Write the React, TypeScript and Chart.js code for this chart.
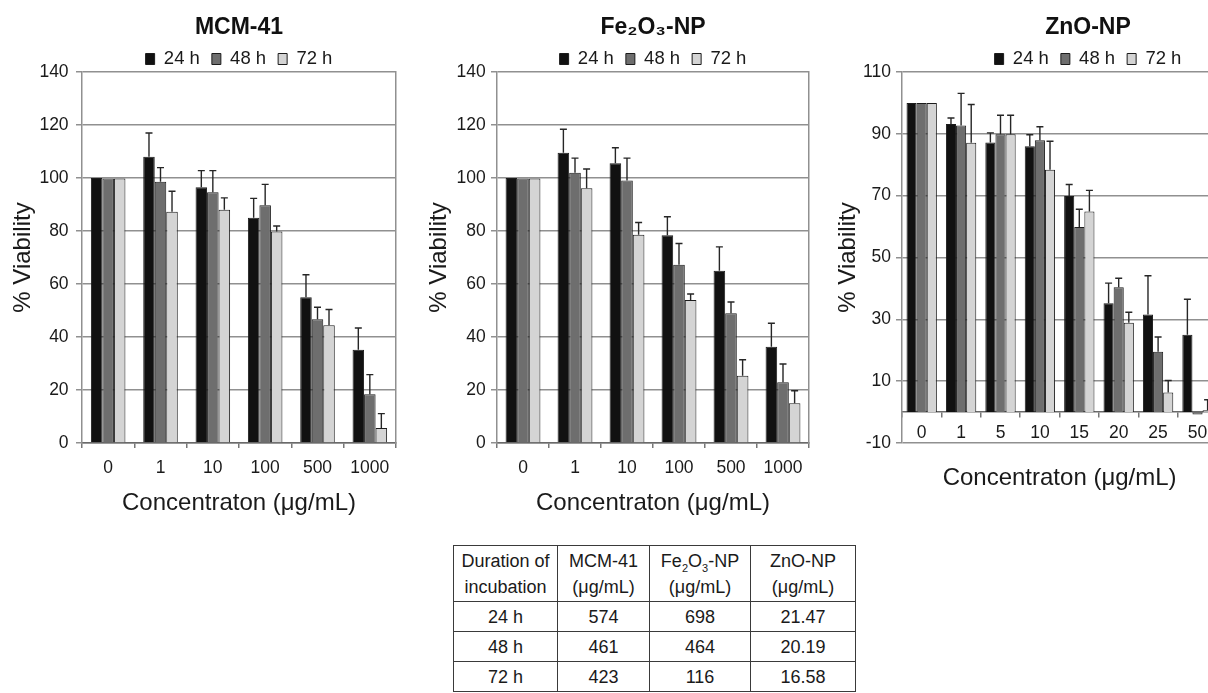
import React, { useEffect, useRef } from 'react';
import { Chart, registerables } from 'chart.js';

Chart.register(...registerables);

const FONT = "'Liberation Sans', Arial, Helvetica, sans-serif";
Chart.defaults.font.family = FONT;

// ---------- data ----------
const seriesLabels = ['24 h', '48 h', '72 h'];
const seriesColors = ['#111111', '#6e6e6e', '#d4d4d4'];

const mcmCategories = ['0', '1', '10', '100', '500', '1000'];
const mcm24 = [100, 108, 96.5, 85, 55, 35.2];
const mcm48 = [99.8, 98.6, 94.6, 89.7, 46.7, 18.4];
const mcm72 = [99.8, 87.3, 88, 79.8, 44.4, 5.7];
const mcm24Err = [0, 9, 6.3, 7.3, 8.5, 8.2];
const mcm48Err = [0, 5.3, 8.2, 7.9, 4.5, 7.4];
const mcm72Err = [0, 7.7, 4.5, 2.1, 6, 5.4];

const feCategories = ['0', '1', '10', '100', '500', '1000'];
const fe24 = [100, 109.5, 105.6, 78.4, 65, 36.3];
const fe48 = [99.8, 102, 99.1, 67.3, 49, 22.9];
const fe72 = [99.8, 96.1, 78.6, 54, 25.4, 15];
const fe24Err = [0, 8.9, 5.8, 7, 9, 8.9];
const fe48Err = [0, 5.5, 8.4, 8, 4.2, 6.9];
const fe72Err = [0, 7.3, 4.6, 2.2, 6, 4.7];

const znCategories = ['0', '1', '5', '10', '15', '20', '25', '50'];
const zn24 = [100, 93.2, 87.2, 86, 69.9, 35.2, 31.6, 25];
const zn48 = [100, 92.7, 89.9, 87.9, 59.9, 40.4, 19.5, -0.8];
const zn72 = [100, 87.1, 89.9, 78.4, 64.9, 28.9, 6.3, 0.6];
const zn24Err = [0, 1.9, 3.1, 3.7, 3.7, 6.5, 12.5, 11.5];
const zn48Err = [0, 10.4, 6.1, 4.4, 5.7, 2.9, 4.8, 0];
const zn72Err = [0, 12.4, 6.1, 9.2, 6.8, 3.4, 3.9, 3.4];

const tableDurations = ['24 h', '48 h', '72 h'];
const tableMcm = ['574', '461', '423'];
const tableFe = ['698', '464', '116'];
const tableZn = ['21.47', '20.19', '16.58'];

const xTitle = 'Concentraton (μg/mL)';
const yTitle = '% Viability';

// ---------- error bar plugin ----------
const errorBarPlugin = {
  id: 'errorBars',
  afterDatasetsDraw(chart: any) {
    const ctx = chart.ctx;
    const yScale = chart.scales.y;
    ctx.save();
    ctx.strokeStyle = '#262626';
    ctx.lineWidth = 1.4;
    chart.data.datasets.forEach((ds: any, di: number) => {
      const meta = chart.getDatasetMeta(di);
      const errs = ds.errors as number[] | undefined;
      if (!errs) return;
      meta.data.forEach((bar: any, i: number) => {
        const e = errs[i];
        const v = ds.data[i];
        if (!e) return;
        const yTop = yScale.getPixelForValue(v + e);
        const yBase = yScale.getPixelForValue(v);
        const x = bar.x;
        ctx.beginPath();
        ctx.moveTo(x, yBase);
        ctx.lineTo(x, yTop);
        ctx.moveTo(x - 3.5, yTop);
        ctx.lineTo(x + 3.5, yTop);
        ctx.stroke();
      });
    });
    ctx.restore();
  },
};

interface ChartParams {
  title: string;
  categories: string[];
  values: number[][];
  errors: number[][];
  catPct: number;
  yMin: number;
  yMax: number;
  yWidth: number;
  y2Width: number;
  rightBorder: boolean;
  yTitlePad: number;
  yTickPad: number;
  xPosition: any;
  xHeight: number;
  xTickPad: number;
  xTitlePadBottom: number;
  fullSize: boolean;
  padBottom: number;
}

const GRID = '#909090';

function makeConfig(p: ChartParams): any {
  return {
    type: 'bar',
    data: {
      labels: p.categories,
      datasets: p.values.map((vals, k) => ({
        label: seriesLabels[k],
        data: vals,
        errors: p.errors[k],
        backgroundColor: seriesColors[k],
        borderColor: '#1c1c1c',
        borderWidth: 1,
        categoryPercentage: p.catPct,
        barPercentage: 1,
        yAxisID: 'y',
      })),
    },
    options: {
      responsive: false,
      animation: false,
      events: [],
      layout: { padding: { left: 0, right: 0, top: 0, bottom: p.padBottom } },
      plugins: {
        title: {
          display: true,
          text: p.title,
          fullSize: p.fullSize,
          color: '#111',
          font: { size: 23, weight: 'bold', family: FONT },
          padding: { top: 14, bottom: -3.85 },
        },
        legend: {
          display: true,
          fullSize: p.fullSize,
          maxHeight: 34.25,
          labels: {
            boxWidth: 9,
            boxHeight: 11,
            padding: 12,
            color: '#1a1a1a',
            font: { size: 18.5, family: FONT },
          },
        },
        tooltip: { enabled: false },
      },
      scales: {
        x: {
          type: 'category',
          position: p.xPosition,
          grid: {
            display: true,
            drawOnChartArea: false,
            offset: true,
            tickLength: 5,
            color: '#777',
            lineWidth: 1.5,
          },
          border: { display: true, color: '#6a6a6a', width: 1.5 },
          ticks: {
            color: '#1a1a1a',
            padding: p.xTickPad,
            font: { size: 17.5, family: FONT },
            maxRotation: 0,
            autoSkip: false,
          },
          title: {
            display: true,
            text: xTitle,
            color: '#1a1a1a',
            font: { size: 24, family: FONT },
            padding: { top: 0, bottom: p.xTitlePadBottom },
          },
          afterFit: (s: any) => {
            s.height = p.xHeight;
          },
        },
        y: {
          type: 'linear',
          position: 'left',
          min: p.yMin,
          max: p.yMax,
          ticks: {
            stepSize: 20,
            color: '#1a1a1a',
            padding: p.yTickPad,
            font: { size: 17.5, family: FONT },
          },
          grid: { color: GRID, lineWidth: 1.5, tickLength: 6 },
          border: { display: true, color: GRID, width: 1.5 },
          title: {
            display: true,
            text: yTitle,
            color: '#1a1a1a',
            font: { size: 24, family: FONT },
            padding: { top: p.yTitlePad, bottom: 0 },
          },
          afterFit: (s: any) => {
            s.width = p.yWidth;
          },
        },
        y2: {
          type: 'linear',
          position: 'right',
          display: true,
          grid: { display: false, drawOnChartArea: false, drawTicks: false },
          ticks: { display: false },
          border: { display: p.rightBorder, color: GRID, width: 1.5 },
          afterFit: (s: any) => {
            s.width = p.y2Width;
          },
        },
      },
    },
    plugins: [errorBarPlugin],
  };
}

function BarPanel(props: { params: ChartParams; left: number; width: number; height: number }) {
  const ref = useRef<HTMLCanvasElement | null>(null);
  useEffect(() => {
    if (!ref.current) return;
    const chart = new Chart(ref.current, makeConfig(props.params));
    return () => chart.destroy();
  }, []);
  return (
    <canvas
      ref={ref}
      width={props.width}
      height={props.height}
      style={{ position: 'absolute', left: props.left, top: 0, width: props.width, height: props.height }}
    />
  );
}

const mcmParams: ChartParams = {
  title: 'MCM-41',
  categories: mcmCategories,
  values: [mcm24, mcm48, mcm72],
  errors: [mcm24Err, mcm48Err, mcm72Err],
  catPct: 0.66,
  yMin: 0,
  yMax: 140,
  yWidth: 82,
  y2Width: 4,
  rightBorder: true,
  yTitlePad: 8.6,
  yTickPad: 7.4,
  xPosition: 'bottom',
  xHeight: 97,
  xTickPad: 9.5,
  xTitlePadBottom: 22.1,
  fullSize: false,
  padBottom: 0,
};

const feParams: ChartParams = {
  title: 'Fe₂O₃-NP',
  categories: feCategories,
  values: [fe24, fe48, fe72],
  errors: [fe24Err, fe48Err, fe72Err],
  catPct: 0.67,
  yMin: 0,
  yMax: 140,
  yWidth: 92,
  y2Width: 4,
  rightBorder: true,
  yTitlePad: 19.6,
  yTickPad: 5.3,
  xPosition: 'bottom',
  xHeight: 97,
  xTickPad: 9.5,
  xTitlePadBottom: 22.1,
  fullSize: false,
  padBottom: 0,
};

const znParams: ChartParams = {
  title: 'ZnO-NP',
  categories: znCategories,
  values: [zn24, zn48, zn72],
  errors: [zn24Err, zn48Err, zn72Err],
  catPct: 0.77,
  yMin: -10,
  yMax: 110,
  yWidth: 82,
  y2Width: 138.8,
  rightBorder: false,
  yTitlePad: 13.6,
  yTickPad: 5,
  xPosition: { y: 0 },
  xHeight: 97,
  xTickPad: 5.1,
  xTitlePadBottom: 16.3,
  fullSize: true,
  padBottom: 97,
};

const cell: React.CSSProperties = {
  border: '1px solid #3a3a3a',
  textAlign: 'center',
  verticalAlign: 'middle',
  padding: 0,
};

function ResultTable() {
  const rows = tableDurations.map((d, i) => [d, tableMcm[i], tableFe[i], tableZn[i]]);
  const widths = [104, 92, 101, 105];
  const sub: React.CSSProperties = { fontSize: 11, lineHeight: 0 };
  return (
    <table
      style={{
        position: 'absolute',
        left: 453,
        top: 545,
        borderCollapse: 'collapse',
        fontFamily: FONT,
        fontSize: 18,
        color: '#1a1a1a',
        tableLayout: 'fixed',
      }}
    >
      <colgroup>
        {widths.map((w, i) => (
          <col key={i} style={{ width: w }} />
        ))}
      </colgroup>
      <tbody>
        <tr style={{ height: 56 }}>
          <td style={{ ...cell, lineHeight: '26px' }}>
            Duration of
            <br />
            incubation
          </td>
          <td style={{ ...cell, lineHeight: '26px' }}>
            MCM-41
            <br />
            (μg/mL)
          </td>
          <td style={{ ...cell, lineHeight: '26px' }}>
            Fe<sub style={sub}>2</sub>O<sub style={sub}>3</sub>-NP
            <br />
            (μg/mL)
          </td>
          <td style={{ ...cell, lineHeight: '26px' }}>
            ZnO-NP
            <br />
            (μg/mL)
          </td>
        </tr>
        {rows.map((r, i) => (
          <tr key={i} style={{ height: 30 }}>
            {r.map((c, j) => (
              <td key={j} style={{ ...cell, lineHeight: '20px' }}>
                {c}
              </td>
            ))}
          </tr>
        ))}
      </tbody>
    </table>
  );
}

export default function App() {
  return (
    <div
      style={{
        position: 'fixed',
        left: 0,
        top: 0,
        width: 1208,
        height: 693,
        overflow: 'hidden',
        background: '#ffffff',
        fontFamily: FONT,
      }}
    >
      <BarPanel params={mcmParams} left={0} width={400} height={540} />
      <BarPanel params={feParams} left={405} width={408} height={540} />
      <BarPanel params={znParams} left={820} width={536} height={540} />
      <ResultTable />
    </div>
  );
}
